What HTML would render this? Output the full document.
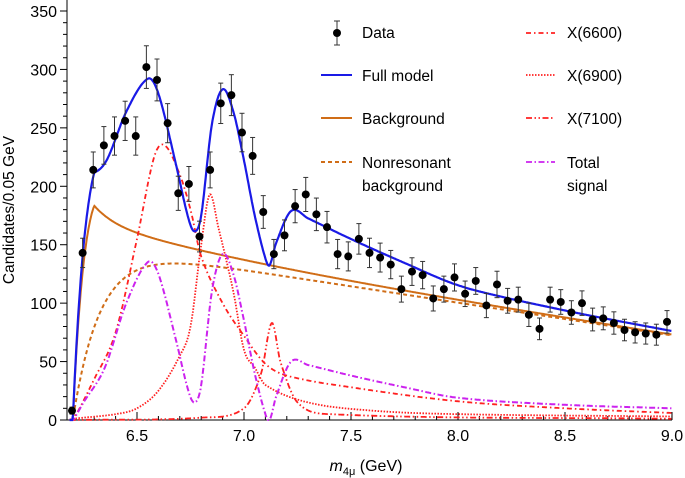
<!DOCTYPE html>
<html><head><meta charset="utf-8"><style>
body{margin:0;background:#fff;}
svg{display:block;font-family:"Liberation Sans",Arial,sans-serif;}
</style></head><body>
<svg id="s" width="685" height="478" viewBox="0 0 685 478" xmlns="http://www.w3.org/2000/svg">
<g id="g"></g>
<text x="14" y="210" font-size="15.5" text-anchor="middle" transform="rotate(-90 14 210)">Candidates/0.05 GeV</text>
<text x="366" y="471" font-size="16" text-anchor="middle"><tspan font-style="italic">m</tspan><tspan font-size="11" dy="4">4μ</tspan><tspan dy="-4"> (GeV)</tspan></text>
<g font-size="15.5">
<text x="362" y="38">Data</text>
<text x="362" y="81">Full model</text>
<text x="362" y="124">Background</text>
<text x="362" y="168">Nonresonant</text>
<text x="362" y="191">background</text>
<text x="567" y="38">X(6600)</text>
<text x="567" y="81">X(6900)</text>
<text x="567" y="124">X(7100)</text>
<text x="567" y="168">Total</text>
<text x="567" y="191">signal</text>
</g>
<g stroke-width="2" fill="none">
<line x1="337" y1="21" x2="337" y2="45" stroke="#333" stroke-width="1"/>
<line x1="334" y1="21" x2="340" y2="21" stroke="#333" stroke-width="1"/>
<line x1="334" y1="45" x2="340" y2="45" stroke="#333" stroke-width="1"/>
<circle cx="337" cy="33" r="4" fill="#000" stroke="none"/>
<line x1="321" y1="75" x2="352" y2="75" stroke="#1a1ae6"/>
<line x1="321" y1="118" x2="352" y2="118" stroke="#d06d17"/>
<line x1="321" y1="162" x2="352" y2="162" stroke="#d06d17" stroke-dasharray="4,3"/>
<line x1="526" y1="33" x2="555" y2="33" stroke="#ff2020" stroke-width="1.8" stroke-dasharray="5,3,1.5,3"/>
<line x1="526" y1="75" x2="555" y2="75" stroke="#ff2020" stroke-width="1.8" stroke-dasharray="1.5,1.5"/>
<line x1="526" y1="118" x2="555" y2="118" stroke="#ff2020" stroke-width="1.8" stroke-dasharray="6,2.5,1.5,2.5,1.5,2.5"/>
<line x1="526" y1="162" x2="555" y2="162" stroke="#cc22ee" stroke-width="1.8" stroke-dasharray="6,2.5,1.5,2.5"/>
</g>
</svg>
<script>
var NS="http://www.w3.org/2000/svg",g=document.getElementById('g');
function X(m){return 137+(m-6.5)*214;}
function Y(v){return 420-v*409/350;}
function el(t,a){var e=document.createElementNS(NS,t);for(var k in a)e.setAttribute(k,a[k]);g.appendChild(e);return e;}
function interp(P){return function(m){if(m<=P[0][0])return P[0][1];var n=P.length;if(m>=P[n-1][0])return P[n-1][1];
var i=0;while(P[i+1][0]<m)i++;var x0=P[i][0],x1=P[i+1][0],y0=P[i][1],y1=P[i+1][1];
function tan(j){if(j<=0)return (P[1][1]-P[0][1])/(P[1][0]-P[0][0]);if(j>=n-1)return (P[n-1][1]-P[n-2][1])/(P[n-1][0]-P[n-2][0]);return (P[j+1][1]-P[j-1][1])/(P[j+1][0]-P[j-1][0]);}
var h=x1-x0,t=(m-x0)/h,m0=tan(i)*h,m1=tan(i+1)*h,t2=t*t,t3=t2*t;
return (2*t3-3*t2+1)*y0+(t3-2*t2+t)*m0+(-2*t3+3*t2)*y1+(t3-t2)*m1;};}
function nonres(m){var t=m-6.2;if(t<=0)return 0;return (134-28*(m-6.8))*(1-Math.exp(-t/0.13));}
function bump(m){var t=m-6.2;if(t<=0)return 0;var f;if(t<0.1)f=(t/0.1)*Math.exp(1-t/0.1);else f=0.2*Math.exp(-(t-0.1)/0.8)+0.8*Math.exp(-(t-0.1)/0.12);return 104*f;}
function bkg(m){return nonres(m)+bump(m);}
var tot=interp([[6.18,0],[6.2,0],[6.25,15],[6.35,45],[6.45,100],[6.55,135],[6.6,125],[6.68,70],[6.74,25],[6.77,15],[6.8,30],[6.85,110],[6.9,142],[6.95,125],[7.0,85],[7.05,40],[7.1,5],[7.12,0],[7.15,20],[7.22,50],[7.3,47],[7.5,38],[7.75,28],[8.0,19],[8.5,13],[9.0,10]]);
var x66=interp([[6.18,0],[6.2,0],[6.3,35],[6.4,75],[6.5,155],[6.58,225],[6.63,235],[6.7,210],[6.75,180],[6.8,140],[6.9,100],[7.0,72],[7.1,48],[7.2,38],[7.5,28],[8.0,16],[8.5,10],[9.0,6]]);
var x69=interp([[6.18,0],[6.2,1],[6.4,5],[6.5,10],[6.6,25],[6.7,55],[6.75,80],[6.8,150],[6.84,193],[6.88,165],[6.95,110],[7.0,60],[7.05,45],[7.1,30],[7.3,15],[7.6,8],[8.0,5],[9.0,3]]);
var x71=interp([[6.18,0],[6.2,0],[6.8,2],[7.0,10],[7.08,40],[7.13,83],[7.17,50],[7.25,15],[7.4,5],[9,1]]);
function full(m){var r=m>7.25?Math.min(1,(m-7.25)/0.8)*7:0;return bkg(m)+tot(m)-r;}
function curve(f,a){var d="";for(var m=6.185;m<=9.0001;m+=0.004){var v=Math.max(0,f(m));d+=(d?"L":"M")+X(m).toFixed(1)+","+Y(v).toFixed(1);}a.d=d;a.fill="none";el('path',a);}
el('line',{x1:67,y1:0,x2:67,y2:420,stroke:'#000','stroke-width':1});
el('line',{x1:67,y1:420,x2:672,y2:420,stroke:'#000','stroke-width':1});
for(var v=0;v<=350;v+=10){var y=Y(v),maj=v%50==0;el('line',{x1:maj?60:63,y1:y,x2:67,y2:y,stroke:'#000','stroke-width':1});
if(maj){var t=el('text',{x:57,y:y+6,'font-size':16,'text-anchor':'end'});t.textContent=v;}}
for(var k=0;k<=28;k++){var m=6.2+k*0.1;var x=X(m);el('line',{x1:x,y1:420,x2:x,y2:416,stroke:'#000','stroke-width':1});}
for(var k=0;k<=5;k++){var m=6.5+k*0.5,x=X(m);el('line',{x1:x,y1:420,x2:x,y2:412,stroke:'#000','stroke-width':1});var t=el('text',{x:x,y:441,'font-size':16,'text-anchor':'middle'});t.textContent=m.toFixed(1);}
curve(nonres,{stroke:'#d06d17','stroke-width':2,'stroke-dasharray':'4,3'});
curve(bkg,{stroke:'#d06d17','stroke-width':2});
curve(x66,{stroke:'#ff2020','stroke-width':1.8,'stroke-dasharray':'5,3,1.5,3'});
curve(x69,{stroke:'#ff2020','stroke-width':1.8,'stroke-dasharray':'1.5,1.5'});
curve(x71,{stroke:'#ff2020','stroke-width':1.8,'stroke-dasharray':'6,2.5,1.5,2.5,1.5,2.5'});
curve(tot,{stroke:'#cc22ee','stroke-width':2,'stroke-dasharray':'6,2.5,1.5,2.5'});
curve(full,{stroke:'#1a1ae6','stroke-width':2.2});
var D=[8,143,214,235,243,256,243,302,291,254,194,202,157,214,271,278,246,226,178,142,158,183,193,176,165,142,140,155,143,139,133,112,127,124,104,112,122,108,119,98,116,102,103,90,78,103,101,92,100,86,87,83,77,75,74,73,84];
var n=D.length;for(var i=0;i<n;i++){var x=72+i*(667-72)/(n-1),v=D[i],e=Math.sqrt(v)*1.05,y=Y(v),y1=Y(v+e),y2=Y(Math.max(0,v-e));
el('line',{x1:x,y1:y1,x2:x,y2:y2,stroke:'#333','stroke-width':1});
el('line',{x1:x-2.5,y1:y1,x2:x+2.5,y2:y1,stroke:'#333','stroke-width':1});
el('line',{x1:x-2.5,y1:y2,x2:x+2.5,y2:y2,stroke:'#333','stroke-width':1});
el('circle',{cx:x,cy:y,r:4,fill:'#000'});}
</script>
</body></html>
